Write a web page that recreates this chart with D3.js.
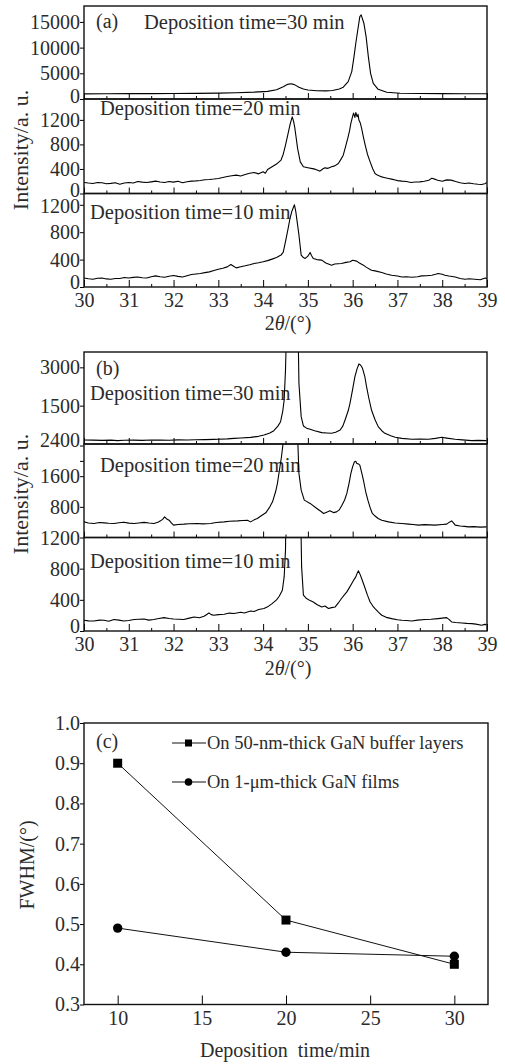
<!DOCTYPE html>
<html>
<head>
<meta charset="utf-8">
<script src="https://cdn.jsdelivr.net/npm/d3@7"></script>
<style>
body { margin: 0; background: #fff; }
</style>
</head>
<body>
<div id="chart"></div>
<script>
// ---- data ----
// panel (a): buffer layers, [2theta, intensity]
var a30 = [[30.0,1000],[30.5,1020],[31.0,1040],[31.5,1050],[32.0,1070],[32.5,1100],[33.0,1150],[33.4,1220],[33.8,1330],[34.1,1480],[34.3,1800],[34.45,2400],[34.55,2850],[34.62,2980],[34.7,2800],[34.8,2300],[34.9,1950],[35.0,1750],[35.2,1600],[35.4,1580],[35.55,1640],[35.7,1950],[35.79,2300],[35.9,3380],[35.98,5330],[36.03,8250],[36.07,10850],[36.12,13770],[36.16,16040],[36.19,16370],[36.25,14750],[36.3,12150],[36.35,8250],[36.4,5000],[36.46,3060],[36.57,1890],[36.76,1300],[37.06,1110],[37.5,1060],[38.0,1040],[38.5,1030],[39.0,1020]];

var a20 = [[30.0,180],[30.1,170],[30.2,163],[30.3,178],[30.4,174],[30.5,160],[30.6,165],[30.7,175],[30.8,152],[30.9,170],[31.0,180],[31.1,172],[31.2,196],[31.3,185],[31.4,178],[31.5,190],[31.6,201],[31.7,188],[31.8,180],[31.9,195],[32.0,185],[32.1,200],[32.2,176],[32.3,192],[32.4,201],[32.5,205],[32.6,212],[32.7,225],[32.8,229],[32.9,236],[33.0,245],[33.1,262],[33.2,278],[33.3,290],[33.4,299],[33.5,285],[33.6,310],[33.7,330],[33.8,343],[33.9,320],[34.0,355],[34.05,330],[34.1,390],[34.2,435],[34.3,480],[34.4,545],[34.45,640],[34.5,790],[34.55,950],[34.6,1120],[34.65,1250],[34.68,1180],[34.71,1060],[34.77,735],[34.83,516],[34.9,435],[35.0,420],[35.1,405],[35.16,397],[35.22,380],[35.27,364],[35.33,400],[35.38,418],[35.45,410],[35.53,435],[35.6,450],[35.68,490],[35.74,560],[35.79,625],[35.84,760],[35.89,898],[35.93,1020],[35.96,1143],[36.0,1260],[36.02,1310],[36.05,1240],[36.07,1320],[36.1,1250],[36.12,1290],[36.14,1197],[36.17,1150],[36.2,1061],[36.24,920],[36.28,789],[36.33,640],[36.39,516],[36.45,400],[36.5,327],[36.55,300],[36.6,285],[36.65,271],[36.7,262],[36.8,245],[36.87,234],[36.95,220],[37.0,210],[37.1,201],[37.2,195],[37.3,180],[37.4,188],[37.5,190],[37.6,200],[37.7,215],[37.77,250],[37.85,230],[37.9,215],[38.0,201],[38.1,222],[38.2,218],[38.3,195],[38.4,175],[38.5,163],[38.6,170],[38.7,158],[38.8,150],[38.88,147],[38.95,160],[39.0,180]];

var a10 = [[30.0,132],[30.1,120],[30.2,113],[30.3,128],[30.4,132],[30.5,118],[30.6,113],[30.7,125],[30.8,123],[30.9,138],[31.0,132],[31.1,140],[31.2,147],[31.3,135],[31.4,132],[31.5,150],[31.6,162],[31.7,150],[31.8,142],[31.9,158],[32.0,167],[32.1,155],[32.2,147],[32.3,165],[32.4,182],[32.5,190],[32.6,197],[32.7,210],[32.8,221],[32.9,240],[33.0,260],[33.1,275],[33.2,294],[33.28,329],[33.35,300],[33.4,279],[33.5,295],[33.6,309],[33.7,325],[33.8,344],[33.9,355],[34.0,368],[34.1,385],[34.2,407],[34.3,430],[34.4,466],[34.45,510],[34.5,661],[34.56,858],[34.6,1000],[34.64,1102],[34.7,1201],[34.73,1100],[34.76,955],[34.8,760],[34.85,466],[34.9,430],[34.94,417],[35.0,450],[35.05,505],[35.08,460],[35.12,417],[35.2,400],[35.31,392],[35.4,350],[35.53,319],[35.6,335],[35.75,344],[35.85,360],[35.94,368],[36.0,390],[36.09,378],[36.15,350],[36.24,319],[36.3,290],[36.42,245],[36.5,235],[36.65,211],[36.75,190],[36.87,172],[37.0,160],[37.1,147],[37.2,150],[37.32,142],[37.45,150],[37.54,162],[37.65,165],[37.77,172],[37.85,185],[37.91,197],[38.0,185],[38.06,172],[38.15,160],[38.29,147],[38.4,125],[38.51,113],[38.6,120],[38.73,113],[38.85,105],[38.96,132],[39.0,120]];

// panel (b): 1-um films
var b30 = [[30.0,157],[30.2,150],[30.4,140],[30.6,150],[30.75,131],[30.9,145],[31.1,150],[31.3,140],[31.5,157],[31.7,150],[31.9,145],[32.1,160],[32.3,157],[32.5,165],[32.7,170],[32.9,180],[33.0,183],[33.2,200],[33.35,222],[33.5,235],[33.72,261],[33.9,300],[34.02,352],[34.15,430],[34.24,522],[34.33,700],[34.39,874],[34.44,1300],[34.47,1723],[34.5,2898],[34.53,5000],[34.6,9000],[34.68,10000],[34.75,6000],[34.79,3500],[34.8,2377],[34.85,1070],[34.9,705],[34.97,620],[35.05,574],[35.15,520],[35.31,444],[35.42,430],[35.53,418],[35.62,460],[35.72,548],[35.78,700],[35.83,940],[35.9,1300],[35.94,1593],[36.0,2150],[36.05,2636],[36.1,2950],[36.14,3133],[36.18,3080],[36.22,2963],[36.27,2650],[36.31,2245],[36.36,1800],[36.42,1331],[36.5,950],[36.57,679],[36.65,520],[36.72,418],[36.85,320],[36.95,261],[37.1,220],[37.32,183],[37.5,195],[37.69,183],[37.85,220],[37.99,261],[38.1,230],[38.29,183],[38.45,160],[38.66,131],[38.8,140],[38.99,131]];

var b20 = [[30.0,408],[30.1,380],[30.22,366],[30.35,390],[30.45,382],[30.55,370],[30.67,366],[30.78,385],[30.89,400],[31.0,375],[31.12,366],[31.22,380],[31.34,395],[31.45,378],[31.56,366],[31.65,400],[31.71,434],[31.76,480],[31.8,538],[31.84,490],[31.9,452],[31.95,380],[32.0,322],[32.1,340],[32.23,348],[32.35,360],[32.53,366],[32.65,355],[32.83,366],[32.95,390],[33.13,408],[33.25,425],[33.43,434],[33.55,445],[33.65,452],[33.72,408],[33.8,460],[33.87,497],[33.95,560],[34.06,644],[34.15,800],[34.21,931],[34.28,1200],[34.32,1412],[34.37,1800],[34.41,2107],[34.45,2500],[34.5,3500],[34.6,6000],[34.7,5000],[34.76,3000],[34.8,1673],[34.85,1236],[34.92,975],[35.05,889],[35.2,758],[35.28,690],[35.35,627],[35.42,660],[35.49,695],[35.57,650],[35.64,669],[35.7,720],[35.76,844],[35.82,980],[35.87,1150],[35.92,1420],[35.96,1673],[36.0,1850],[36.04,1976],[36.07,1990],[36.09,1934],[36.13,1920],[36.16,1890],[36.2,1700],[36.24,1498],[36.29,1200],[36.34,975],[36.39,780],[36.44,627],[36.5,560],[36.57,497],[36.65,450],[36.8,408],[36.95,380],[37.1,366],[37.25,350],[37.35,340],[37.47,322],[37.6,335],[37.72,330],[37.84,322],[38.0,340],[38.1,348],[38.16,400],[38.21,434],[38.25,380],[38.29,322],[38.4,300],[38.5,290],[38.58,277],[38.7,285],[38.85,270],[38.99,277]];

var b10 = [[30.0,138],[30.1,130],[30.22,129],[30.35,140],[30.45,138],[30.55,125],[30.67,147],[30.78,140],[30.89,129],[31.0,135],[31.12,147],[31.22,150],[31.34,154],[31.45,140],[31.56,147],[31.67,160],[31.79,172],[31.9,160],[32.0,154],[32.12,150],[32.23,147],[32.35,165],[32.46,180],[32.58,170],[32.68,189],[32.75,215],[32.79,232],[32.84,210],[32.9,202],[33.0,210],[33.13,215],[33.25,230],[33.35,224],[33.5,240],[33.58,232],[33.72,257],[33.8,250],[33.9,275],[34.02,288],[34.1,310],[34.2,352],[34.3,400],[34.36,446],[34.43,523],[34.47,694],[34.5,1038],[34.53,2500],[34.65,5000],[34.8,4000],[34.84,1500],[34.86,823],[34.9,459],[34.97,417],[35.05,390],[35.12,373],[35.2,340],[35.31,309],[35.38,320],[35.46,288],[35.53,300],[35.61,309],[35.68,360],[35.75,417],[35.81,460],[35.87,502],[35.93,560],[35.98,609],[36.03,660],[36.07,694],[36.1,740],[36.13,772],[36.17,720],[36.2,673],[36.28,545],[36.33,460],[36.39,373],[36.45,320],[36.5,288],[36.58,240],[36.65,202],[36.75,175],[36.87,159],[37.0,145],[37.1,138],[37.2,135],[37.32,129],[37.45,140],[37.62,147],[37.75,150],[37.91,159],[38.0,165],[38.1,172],[38.15,150],[38.21,116],[38.3,110],[38.44,103],[38.55,98],[38.66,95],[38.75,88],[38.88,73],[38.95,85],[38.99,82]];

var xTicks = [30, 31, 32, 33, 34, 35, 36, 37, 38, 39];
var xMinorTicks = [30.5, 31.5, 32.5, 33.5, 34.5, 35.5, 36.5, 37.5, 38.5];

// panel (c)
var times = [10, 20, 30];
var fwhmBuffer = [0.90, 0.51, 0.40];
var fwhmFilm = [0.49, 0.43, 0.42];
var cXTicks = [10, 15, 20, 25, 30];
var cYTicks = [0.3, 0.4, 0.5, 0.6, 0.7, 0.8, 0.9, 1.0];
var legendNames = ["On 50-nm-thick GaN buffer layers", "On 1-\u03bcm-thick GaN films"];

// ---- drawing ----
var serif = "'Liberation Serif', 'Times New Roman', 'DejaVu Serif', serif";
var ink = "#2b2b2b";

var width = 505, height = 1064;
var svg = d3.select("#chart").append("svg")
  .attr("width", width)
  .attr("height", height)
  .attr("font-family", serif);

var left = 84, right = 487;
var x = d3.scaleLinear().domain([30, 39]).range([left, right]);

function txt(sel, size) {
  return sel.attr("font-family", serif).style("font-family", serif)
    .style("font-size", size + "px").attr("fill", ink);
}

function strip(s) {
  var y = d3.scaleLinear().domain([0, s.max]).range([s.y1, s.y0]);

  svg.append("clipPath").attr("id", s.id)
    .append("rect")
    .attr("x", left).attr("y", s.y0)
    .attr("width", right - left).attr("height", s.y1 - s.y0);

  if (s.tag) {
    txt(svg.append("text").attr("x", 96).attr("y", s.tagY), 20).text(s.tag);
  }
  txt(svg.append("text").attr("x", s.labelX).attr("y", s.labelY), 20.5).text(s.label);

  var line = d3.line()
    .x(function(d) { return x(d[0]); })
    .y(function(d) { return y(d[1]); });

  svg.append("path").datum(s.data)
    .attr("d", line)
    .attr("clip-path", "url(#" + s.id + ")")
    .attr("fill", "none")
    .attr("stroke", "#000")
    .attr("stroke-width", 1.1)
    .attr("stroke-linejoin", "round");

  var yAxis = svg.append("g")
    .attr("transform", "translate(" + left + ",0)")
    .call(d3.axisLeft(y).tickValues(s.ticks).tickSizeInner(4).tickSizeOuter(0).tickPadding(0)
      .tickFormat(function(d) { return s.shown.indexOf(d) >= 0 ? d : ""; }));
  yAxis.select(".domain").remove();
  // labels sitting on a strip edge are nudged off it, as in the figure
  txt(yAxis.selectAll("text"), 20)
    .attr("y", function(d) {
      if (d === 0) return s.bottom ? -5 : -3;
      if (d === 2400) return -5;
      if (d === 1200 && s.max < 1400) return 1;
      return 0;
    });

  var minor = svg.append("g")
    .attr("transform", "translate(0," + s.y1 + ")")
    .call(d3.axisBottom(x).tickValues(xMinorTicks).tickSizeInner(-3).tickSizeOuter(0).tickFormat(""));
  minor.select(".domain").remove();

  var major = svg.append("g")
    .attr("transform", "translate(0," + s.y1 + ")")
    .call(d3.axisBottom(x).tickValues(xTicks).tickSizeInner(s.bottom ? -7 : -6).tickSizeOuter(0).tickPadding(6)
      .tickFormat(s.bottom ? d3.format("d") : ""));
  major.select(".domain").remove();
  txt(major.selectAll("text"), 20);

  svg.append("rect")
    .attr("x", left).attr("y", s.y0)
    .attr("width", right - left).attr("height", s.y1 - s.y0)
    .attr("fill", "none").attr("stroke", "#111").attr("stroke-width", 1.4);
}

strip({id: "a1", data: a30, max: 18100, y0: 6, y1: 99, ticks: [0, 5000, 10000, 15000], shown: [0, 5000, 10000, 15000],
  tag: "(a)", tagY: 28, label: "Deposition time=30 min", labelX: 144, labelY: 29});
strip({id: "a2", data: a20, max: 1540, y0: 99, y1: 193.5, ticks: [0, 400, 800, 1200], shown: [0, 400, 800, 1200],
  label: "Deposition time=20 min", labelX: 100, labelY: 115});
strip({id: "a3", data: a10, max: 1365, y0: 193.5, y1: 287, ticks: [0, 400, 800, 1200], shown: [0, 400, 800, 1200],
  label: "Deposition time=10 min", labelX: 90, labelY: 219, bottom: true});

strip({id: "b1", data: b30, max: 3600, y0: 352, y1: 444, ticks: [1500, 3000], shown: [1500, 3000],
  tag: "(b)", tagY: 375, label: "Deposition time=30 min", labelX: 90, labelY: 400});
strip({id: "b2", data: b20, max: 2440, y0: 444, y1: 537.5, ticks: [800, 1600, 2000, 2400], shown: [800, 1600, 2400],
  label: "Deposition time=20 min", labelX: 100, labelY: 472});
strip({id: "b3", data: b10, max: 1200, y0: 537.5, y1: 631, ticks: [0, 400, 800, 1200], shown: [0, 400, 800, 1200],
  label: "Deposition time=10 min", labelX: 90, labelY: 568, bottom: true});

function xLabel(yPos) {
  var t = txt(svg.append("text").attr("x", 288).attr("y", yPos).attr("text-anchor", "middle"), 20);
  t.append("tspan").text("2");
  t.append("tspan").style("font-style", "italic").text("\u03b8");
  t.append("tspan").text("/(\u00b0)");
}
xLabel(330);
xLabel(675);

function yLabel(label, cx, cy, size) {
  txt(svg.append("text")
    .attr("transform", "translate(" + cx + "," + cy + ") rotate(-90)")
    .attr("text-anchor", "middle"), size)
    .text(label);
}
yLabel("Intensity/a. u.", 28, 150, 22);
yLabel("Intensity/a. u.", 28, 494, 22);

// ---- panel (c) ----
var cx = d3.scaleLinear().domain([8, 32]).range([84, 488]);
var cy = d3.scaleLinear().domain([0.3, 1.0]).range([1004.5, 723]);

var cyAxis = svg.append("g").attr("transform", "translate(84,0)")
  .call(d3.axisLeft(cy).tickValues(cYTicks).tickSizeInner(4).tickSizeOuter(0).tickPadding(0).tickFormat(d3.format(".1f")));
cyAxis.select(".domain").remove();
txt(cyAxis.selectAll("text"), 20);

var cxAxis = svg.append("g").attr("transform", "translate(0,1004.5)")
  .call(d3.axisBottom(cx).tickValues(cXTicks).tickSizeInner(-9).tickSizeOuter(0).tickPadding(6.5).tickFormat(d3.format("d")));
cxAxis.select(".domain").remove();
txt(cxAxis.selectAll("text"), 20);

svg.append("rect").attr("x", 84).attr("y", 723).attr("width", 404).attr("height", 281.5)
  .attr("fill", "none").attr("stroke", "#111").attr("stroke-width", 1.4);

txt(svg.append("text").attr("x", 96).attr("y", 748), 20).text("(c)");

var cLine = d3.line()
  .x(function(d, i) { return cx(times[i]); })
  .y(function(d) { return cy(d); });

[fwhmBuffer, fwhmFilm].forEach(function(series) {
  svg.append("path").datum(series)
    .attr("d", cLine)
    .attr("fill", "none").attr("stroke", "#111").attr("stroke-width", 1);
});

svg.selectAll(".sq").data(fwhmBuffer).enter().append("rect")
  .attr("x", function(d, i) { return cx(times[i]) - 4.5; })
  .attr("y", function(d) { return cy(d) - 4.5; })
  .attr("width", 9).attr("height", 9).attr("fill", "#000");

svg.selectAll(".dot").data(fwhmFilm).enter().append("circle")
  .attr("cx", function(d, i) { return cx(times[i]); })
  .attr("cy", function(d) { return cy(d); })
  .attr("r", 4.7).attr("fill", "#000");

// legend
var legY = [743, 782];
legendNames.forEach(function(name, i) {
  svg.append("line").attr("x1", 172).attr("x2", 206).attr("y1", legY[i]).attr("y2", legY[i])
    .attr("stroke", "#111").attr("stroke-width", 1);
  if (i === 0) {
    svg.append("rect").attr("x", 185).attr("y", legY[i] - 3.5).attr("width", 7).attr("height", 7).attr("fill", "#000");
  } else {
    svg.append("circle").attr("cx", 188.5).attr("cy", legY[i]).attr("r", 3.8).attr("fill", "#000");
  }
  txt(svg.append("text").attr("x", 207).attr("y", legY[i] + 5.5), 18.5).text(name);
});

txt(svg.append("text").attr("x", 285).attr("y", 1057).attr("text-anchor", "middle"), 20)
  .style("white-space", "pre").text("Deposition  time/min");

txt(svg.append("text")
  .attr("transform", "translate(34,865) rotate(-90)")
  .attr("text-anchor", "middle"), 20)
  .text("FWHM/(\u00b0)");
</script>
</body>
</html>
